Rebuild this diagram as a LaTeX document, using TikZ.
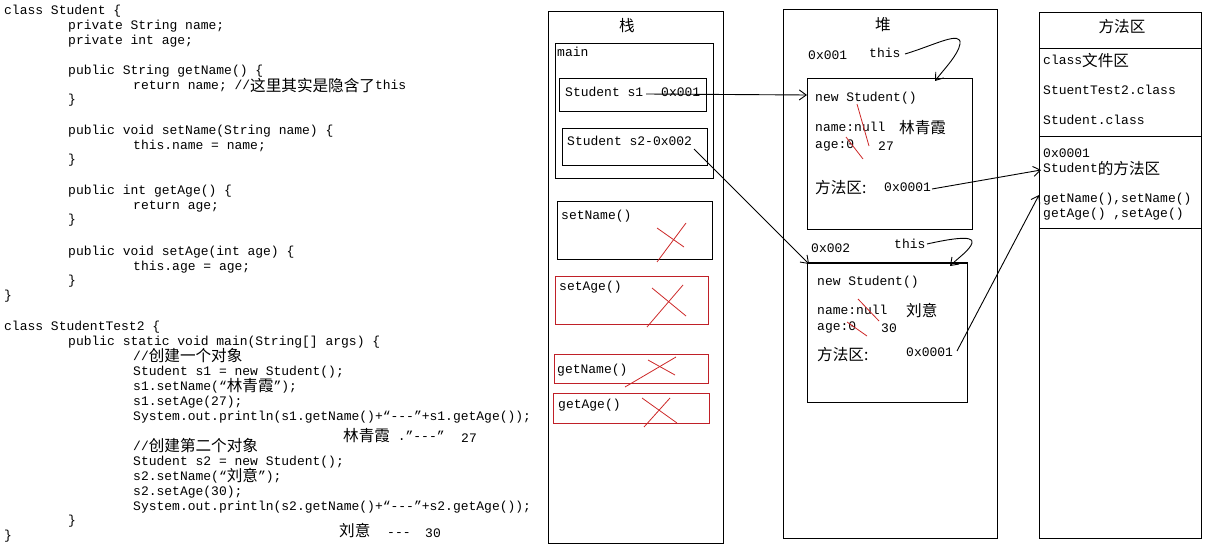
\documentclass[tikz,border=0pt]{standalone}
\usepackage{fontspec}
\setmainfont{Liberation Serif}
\setmonofont{Liberation Mono}
\newfontfamily\cjk[Scale=1.2]{Noto Sans CJK SC}
\newcommand\zh[1]{\raisebox{-1.2pt}{\cjk #1}}
\usetikzlibrary{arrows.meta}
\definecolor{boxred}{RGB}{192,32,40}
\definecolor{crossred}{RGB}{205,40,40}
\begin{document}
\begin{tikzpicture}[x=1pt,y=-1pt,
  txt/.style={anchor=west,inner sep=0pt,font=\ttfamily\fontsize{13}{15}\selectfont,text height=9pt,text depth=3pt},
  ttl/.style={inner sep=0pt,font=\ttfamily\fontsize{13}{15}\selectfont},
  box/.style={draw,line width=1pt,inner sep=0pt},
  rbox/.style={draw=boxred,line width=1pt,inner sep=0pt},
  cross/.style={draw=crossred,line width=0.8pt},
  arr/.style={-{Straight Barb[length=7pt,width=10pt]},line width=0.9pt},
  ln/.style={line width=1pt}]
\useasboundingbox (0,0) rectangle (1213,556);
\fill[white] (0,0) rectangle (1213,556);

% ---------- code ----------
\node[txt] (c1) at (4,12) {class Student \{};
\node[txt] (c2) at (68,27) {private String name;};
\node[txt] (c3) at (68,42) {private int age;};
\node[txt] (c4) at (68,72) {public String getName() \{};
\node[txt] (c5) at (133,87) {return name; //\zh{这里其实是隐含了}this};
\node[txt] (c6) at (68,101) {\}};
\node[txt] (c7) at (68,132) {public void setName(String name) \{};
\node[txt] (c8) at (133,147) {this.name = name;};
\node[txt] (c9) at (68,161) {\}};
\node[txt] (c10) at (68,192) {public int getAge() \{};
\node[txt] (c11) at (133,207) {return age;};
\node[txt] (c12) at (68,221) {\}};
\node[txt] (c13) at (68,252) {public void setAge(int age) \{};
\node[txt] (c14) at (133,267) {this.age = age;};
\node[txt] (c15) at (68,281) {\}};
\node[txt] (c16) at (4,296) {\}};
\node[txt] (c17) at (4,327) {class StudentTest2 \{};
\node[txt] (c18) at (68,342) {public static void main(String[] args) \{};
\node[txt] (c19) at (133,357) {//\zh{创建一个对象}};
\node[txt] (c20) at (133,372) {Student s1 = new Student();};
\node[txt] (c21) at (133,387) {s1.setName(“\zh{林青霞}”);};
\node[txt] (c22) at (133,402) {s1.setAge(27);};
\node[txt] (c23) at (133,417) {System.out.println(s1.getName()+“---”+s1.getAge());};
\node[txt] (c24) at (133,447) {//\zh{创建第二个对象}};
\node[txt] (c25) at (133,462) {Student s2 = new Student();};
\node[txt] (c26) at (133,477) {s2.setName(“\zh{刘意}”);};
\node[txt] (c27) at (133,492) {s2.setAge(30);};
\node[txt] (c28) at (133,507) {System.out.println(s2.getName()+“---”+s2.getAge());};
\node[txt] (c29) at (68,521) {\}};
\node[txt] (c30) at (4,536) {\}};
\node[txt] (a1) at (343,437) {\zh{林青霞} .”---”};
\node[txt] (a1b) at (461,439) {27};
\node[txt] (a2) at (339,532) {\zh{刘意}};
\node[txt] (a2m) at (387,533) {---};
\node[txt] (a2b) at (425,534) {30};

% ---------- stack ----------
\node[box,minimum width=175pt,minimum height=531pt] (stack) at (635.5,277.5) {};
\node[ttl] (stackt) at (627,26) {\zh{栈}};
\node[box,minimum width=158pt,minimum height=135pt] (mainb) at (634,111.5) {};
\node[txt] (maint) at (557,54) {main};
\node[box,minimum width=147pt,minimum height=33pt] (s1b) at (632.5,95.5) {};
\node[txt] (s1t) at (565,94) {Student s1};
\node[txt] (s1a) at (661,94) {0x001};
\node[box,minimum width=145pt,minimum height=37pt] (s2b) at (634.5,147.5) {};
\node[txt] (s2t) at (567,143) {Student s2-0x002};
\node[box,minimum width=155pt,minimum height=58pt] (setnb) at (634.5,231) {};
\node[txt] (setnt) at (561,217) {setName()};
\node[rbox,minimum width=153pt,minimum height=48pt] (setab) at (631.5,300) {};
\node[txt] (setat) at (559,287) {setAge()};
\node[rbox,minimum width=154pt,minimum height=29pt] (getnb) at (631,368.5) {};
\node[txt] (getnt) at (557,370) {getName()};
\node[rbox,minimum width=156pt,minimum height=30pt] (getab) at (631,408) {};
\node[txt] (getat) at (558,405) {getAge()};
% red crosses
\draw[cross] (657,262) -- (686,223);
\draw[cross] (657,228) -- (684,247);
\draw[cross] (647,327) -- (683,285);
\draw[cross] (652,288) -- (686,316);
\draw[cross] (625,387) -- (676,357);
\draw[cross] (648,360) -- (675,375);
\draw[cross] (644,427) -- (670,398);
\draw[cross] (642,398) -- (677,423);

% ---------- heap ----------
\node[box,minimum width=214pt,minimum height=528pt] (heap) at (890,274) {};
\node[ttl] (heapt) at (883,25) {\zh{堆}};
\node[txt] (h1a) at (808,57) {0x001};
\node[txt] (h1this) at (869,55) {this};
\node[box,minimum width=165pt,minimum height=151pt] (obj1) at (889.5,154.5) {};
\node[txt] (o1a) at (815,99) {new Student()};
\node[txt] (o1b) at (815,129) {name:null};
\node[txt] (o1c) at (899,129) {\zh{林青霞}};
\node[txt] (o1d) at (815,146) {age:0};
\node[txt] (o1e) at (878,148) {27};
\node[txt] (o1f) at (815,189) {\zh{方法区:}};
\node[txt] (o1g) at (884,189) {0x0001};
\draw[cross] (857,104) -- (869,146);
\draw[cross] (846,137) -- (863,159);

\node[txt] (h2a) at (811,250) {0x002};
\node[txt] (h2this) at (894,246) {this};
\node[box,minimum width=160pt,minimum height=139pt] (obj2) at (887,332.5) {};
\node[txt] (o2a) at (817,282) {new Student()};
\node[txt] (o2b) at (817,311) {name:null};
\node[txt] (o2c) at (906,312) {\zh{刘意}};
\node[txt] (o2d) at (817,327) {age:0};
\node[txt] (o2e) at (881,329) {30};
\node[txt] (o2f) at (817,356) {\zh{方法区:}};
\node[txt] (o2g) at (906,353) {0x0001};
\draw[cross] (858,299) -- (879,321);
\draw[cross] (847,322) -- (867,336);

% ---------- method area ----------
\node[box,minimum width=162pt,minimum height=525pt] (meth) at (1120,275.5) {};
\node[ttl] (metht) at (1122,27) {\zh{方法区}};
\coordinate (m1l) at (1039,49); \coordinate (m1r) at (1201,49);
\coordinate (m2l) at (1039,137); \coordinate (m2r) at (1201,137);
\coordinate (m3l) at (1039,229); \coordinate (m3r) at (1201,229);
\draw[ln] (m1l) -- (m1r);
\draw[ln] (m2l) -- (m2r);
\draw[ln] (m3l) -- (m3r);
\node[txt] (mt1) at (1043,62) {class\zh{文件区}};
\node[txt] (mt2) at (1043,92) {StuentTest2.class};
\node[txt] (mt3) at (1043,122) {Student.class};
\node[txt] (mt4) at (1043,155) {0x0001};
\node[txt] (mt5) at (1043,170) {Student\zh{的方法区}};
\node[txt] (mt6) at (1043,200) {getName(),setName()};
\node[txt] (mt7) at (1043,215) {getAge() ,setAge()};

% ---------- connectors ----------
\coordinate (s1from) at (646,94);
\coordinate (obj1in) at (807,95);
\draw[arr] (s1from) -- (obj1in);
\coordinate (s2from) at (694,149);
\coordinate (obj2in) at (809,264);
\draw[arr] (s2from) -- (obj2in);
\coordinate (m1from) at (932,189);
\coordinate (methin1) at (1041,170);
\draw[arr] (m1from) -- (methin1);
\coordinate (m2from) at (957,351);
\coordinate (methin2) at (1039,195);
\draw[arr] (m2from) -- (methin2);
\coordinate (t1from) at (905,54);
\coordinate (t1to) at (935,81);
\draw[arr] (t1from) .. controls (935,45) and (962,30) .. (960,44) .. controls (958,55) and (945,68) .. (t1to);
\coordinate (t2from) at (927,244);
\coordinate (t2to) at (950,266);
\draw[arr] (t2from) .. controls (945,240) and (975,234) .. (972,243) .. controls (970,250) and (958,258) .. (t2to);
\end{tikzpicture}
\end{document}
